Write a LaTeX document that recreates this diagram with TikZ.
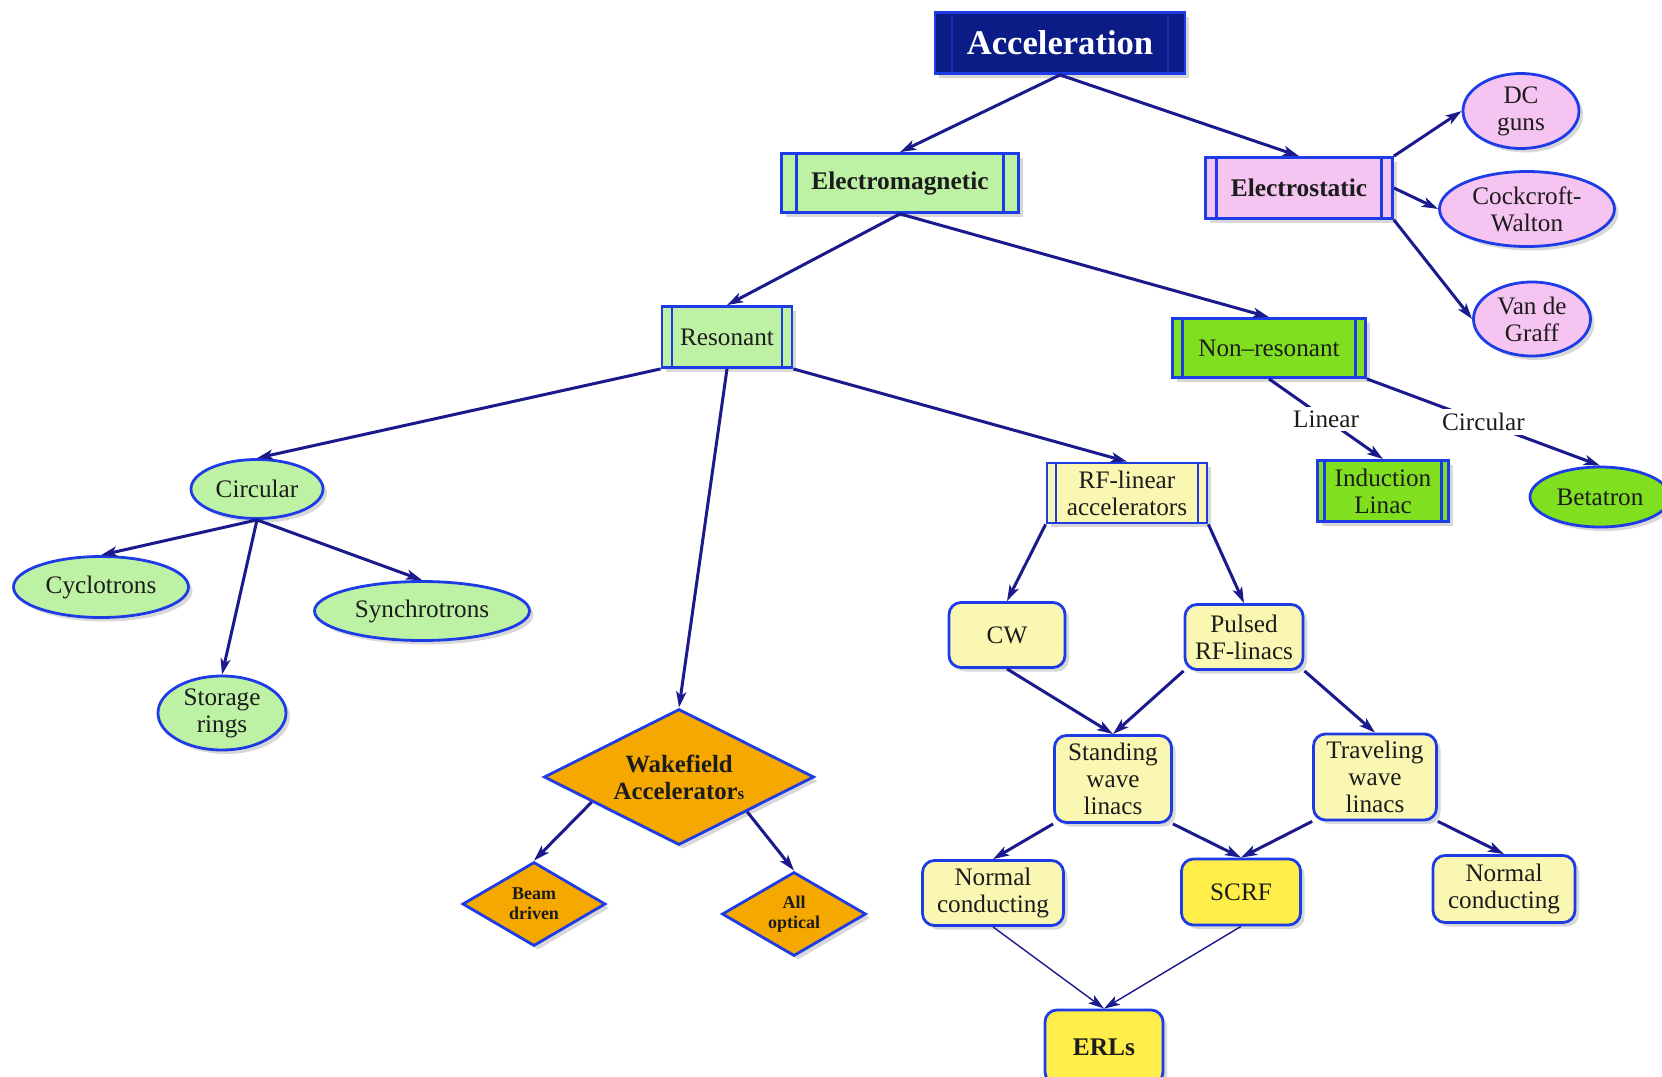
\documentclass[tikz,border=0pt]{standalone}
\usepackage{fontspec}
\setmainfont{Liberation Serif}
\usepackage{tikz}
\usetikzlibrary{shapes.geometric, arrows.meta, shadows}

\definecolor{edgeblue}{HTML}{1A1A8C}
\definecolor{lineblue}{HTML}{1E3CE6}
\definecolor{topblue}{HTML}{0C1C86}
\definecolor{txtblack}{HTML}{1C1C1C}
\definecolor{emgreen}{HTML}{BDF2A4}
\definecolor{nrgreen}{HTML}{80E020}
\definecolor{espink}{HTML}{F6C4F0}
\definecolor{rfyellow}{HTML}{FAF7B2}
\definecolor{scyellow}{HTML}{FFEE4A}
\definecolor{wforange}{HTML}{F5A800}

\begin{document}
\begin{tikzpicture}[x=0.5pt, y=-0.5pt,
	every node/.style={font=\fontsize{12.6}{13.5}\selectfont, align=center, text=txtblack},
	base/.style={draw=lineblue, line width=1.4pt, inner sep=0pt,
		drop shadow={shadow xshift=2pt, shadow yshift=-2pt, fill=black!30}},
	barbox/.style 2 args={base, rectangle,
		path picture={\draw[#2, line width=1.2pt]
			([xshift=#1]path picture bounding box.south west) -- ([xshift=#1]path picture bounding box.north west)
			([xshift=-#1]path picture bounding box.south east) -- ([xshift=-#1]path picture bounding box.north east);}},
	oval/.style={base, ellipse},
	roundbox/.style={base, rectangle, rounded corners=6pt, fill=rfyellow},
	wfdiamond/.style={base, diamond, aspect=2, fill=wforange, font=\bfseries\fontsize{12.4}{13.5}\selectfont},
	smalldiamond/.style={wfdiamond, font=\bfseries\fontsize{9}{10}\selectfont},
	arr/.style={edgeblue, line width=1.5pt, -{Stealth[length=8pt, width=5pt, inset=2pt]}},
	thinarr/.style={arr, line width=0.7pt},
	lbl/.style={fill=white, inner sep=2pt}]
	\useasboundingbox (0,0) rectangle (1662,1077);

	% top levels
	\node[barbox={8.5pt}{topblue!60!lineblue}, fill=topblue, text=white, minimum width=125pt, minimum height=30.5pt,
		font=\bfseries\fontsize{17.3}{18}\selectfont] at (1060,43) (acc){Acceleration};
	\node[barbox={7.5pt}{lineblue}, fill=emgreen, minimum width=118.5pt, minimum height=29.5pt,
		font=\bfseries\fontsize{12.7}{13.5}\selectfont] at (900,183) (em){Electromagnetic};
	\node[barbox={5.5pt}{lineblue}, fill=espink, minimum width=93.5pt, minimum height=30.5pt,
		font=\bfseries\fontsize{12.7}{13.5}\selectfont] at (1299,188) (es){Electrostatic};
	\node[barbox={5pt}{lineblue}, fill=emgreen, minimum width=65pt, minimum height=30.5pt] at (727,337) (res){Resonant};
	\node[barbox={5pt}{lineblue}, fill=nrgreen, minimum width=96.5pt, minimum height=29.5pt] at (1269,348) (nr){Non--resonant};

	% electrostatic
	\node[oval, fill=espink, minimum width=58pt, minimum height=37.5pt] at (1521,111) (dc){DC\\guns};
	\node[oval, fill=espink, minimum width=87.5pt, minimum height=37.5pt] at (1527,209) (cock){Cockcroft-\\Walton};
	\node[oval, fill=espink, minimum width=58.5pt, minimum height=37pt] at (1532,319) (vdg){Van de\\Graff};

	% non-resonant
	\node[barbox={3.5pt}{lineblue}, fill=nrgreen, minimum width=65.5pt, minimum height=30.5pt] at (1383,491) (ind){Induction\\Linac};
	\node[oval, fill=nrgreen, minimum width=70pt, minimum height=30pt] at (1600,497) (beta){Betatron};

	% circular
	\node[oval, fill=emgreen, minimum width=66pt, minimum height=29.5pt] at (257,489) (circ){Circular};
	\node[oval, fill=emgreen, minimum width=87.5pt, minimum height=30.5pt] at (101,587) (cyc){Cyclotrons};
	\node[oval, fill=emgreen, minimum width=107.5pt, minimum height=29.5pt] at (422,611) (syn){Synchrotrons};
	\node[oval, fill=emgreen, minimum width=64pt, minimum height=37pt] at (222,713) (stor){Storage\\rings};

	% wakefield
	\node[wfdiamond, minimum width=135pt, minimum height=68pt] at (679,777) (wf)
		{Wakefield\\Accelerator{\fontsize{8.5}{9}\selectfont s}};
	\node[smalldiamond, minimum width=71.5pt, minimum height=42pt] at (534,904) (bd){Beam\\driven};
	\node[smalldiamond, minimum width=72pt, minimum height=42pt] at (794,914) (ao){All\\optical};

	% rf linacs
	\node[barbox={4.5pt}{lineblue}, fill=rfyellow, minimum width=80pt, minimum height=30pt] at (1127,493) (rf){RF-linear\\accelerators};
	\node[roundbox, minimum width=58pt, minimum height=32.5pt] at (1007,635) (cwb){CW};
	\node[roundbox, minimum width=59pt, minimum height=32.5pt] at (1244,637) (pul){Pulsed\\RF-linacs};
	\node[roundbox, minimum width=58.5pt, minimum height=43.5pt] at (1113,779) (sw){Standing\\wave\\linacs};
	\node[roundbox, minimum width=61.5pt, minimum height=43pt] at (1375,777) (tw){Traveling\\wave\\linacs};
	\node[roundbox, minimum width=70.5pt, minimum height=32.5pt] at (993,893) (ncl){Normal\\conducting};
	\node[roundbox, fill=scyellow, minimum width=59.5pt, minimum height=33pt] at (1241,892) (scrf){SCRF};
	\node[roundbox, minimum width=71pt, minimum height=33.5pt] at (1504,889) (ncr){Normal\\conducting};
	\node[roundbox, fill=scyellow, minimum width=59pt, minimum height=37pt,
		font=\bfseries\fontsize{12.7}{13.5}\selectfont] at (1104,1047) (erl){ERLs};

	% connectors
	\draw[arr] (acc.south) -- (em.north);
	\draw[arr] (acc.south) -- (es.north);
	\draw[arr] (es.north east) -- (dc.west);
	\draw[arr] (es.east) -- (cock.west);
	\draw[arr] (es.south east) -- (vdg.west);
	\draw[arr] (em.south) -- (res.north);
	\draw[arr] (em.south) -- (nr.north);
	\draw[arr] (nr.south) -- node[lbl]{Linear} (ind.north);
	\draw[arr] (nr.south east) -- node[lbl]{Circular} (beta.north);
	\draw[arr] (res.south west) -- (circ.north);
	\draw[arr] (res.south) -- (wf.north);
	\draw[arr] (res.south east) -- (rf.north);
	\draw[arr] (circ.south) -- (cyc.north);
	\draw[arr] (circ.south) -- (stor.north);
	\draw[arr] (circ.south) -- (syn.north);
	\draw[arr] (wf.196) -- (bd.north);
	\draw[arr] (wf.333) -- (ao.north);
	\draw[arr] (rf.south west) -- (cwb.north);
	\draw[arr] (rf.south east) -- (pul.north);
	\draw[arr] (cwb.south) -- (sw.north);
	\draw[arr] (pul.south west) -- (sw.north);
	\draw[arr] (pul.south east) -- (tw.north);
	\draw[arr] (sw.south west) -- (ncl.north);
	\draw[arr] (sw.south east) -- (scrf.north);
	\draw[arr] (tw.south west) -- (scrf.north);
	\draw[arr] (tw.south east) -- (ncr.north);
	\draw[thinarr] (ncl.south) -- (erl.north);
	\draw[thinarr] (scrf.south) -- (erl.north);
\end{tikzpicture}
\end{document}
